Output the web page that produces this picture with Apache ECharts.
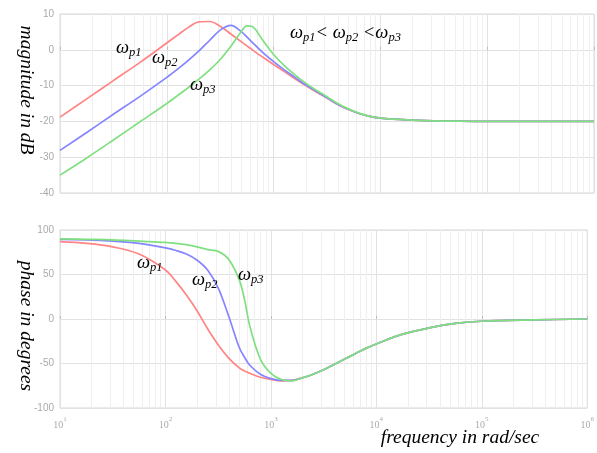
<!DOCTYPE html>
<html><head><meta charset="utf-8">
<script src="https://cdn.jsdelivr.net/npm/echarts@6/dist/echarts.min.js"></script>
<style>html,body{margin:0;padding:0;background:#fff}#c{width:597px;height:453px}</style>
</head><body><div id="c"></div>
<script>
// frequency points (rad/sec)
const freqs = [10, 17.8, 31.6, 56.2, 100, 126, 158, 200, 251, 316, 398, 501, 562, 631, 794, 1000, 1259, 1585, 1995, 2512, 3162, 3981, 5012, 6310, 7943, 10000, 17783, 31623, 56234, 100000, 316228, 1000000];
// magnitude in dB
const magRed   = [-18.8, -13.7, -8.6, -3.5, 1.9, 4.1, 6.2, 7.8, 7.9, 6.6, 4.4, 2.2, 1.1, 0.0, -2.1, -4.1, -6.1, -8.1, -10.0, -11.8, -13.5, -15.3, -16.7, -17.8, -18.6, -19.1, -19.6, -19.85, -19.95, -20, -20, -20];
const magBlue  = [-28.1, -23.1, -18.0, -13.0, -7.7, -5.4, -3.0, -0.3, 2.6, 5.5, 6.8, 5.0, 3.6, 2.1, -0.8, -3.3, -5.6, -7.7, -9.8, -11.6, -13.4, -15.2, -16.6, -17.8, -18.6, -19.1, -19.6, -19.85, -19.95, -20, -20, -20];
const magGreen = [-35.0, -30.2, -25.2, -20.1, -15.0, -12.8, -10.6, -8.2, -5.7, -2.7, 1.0, 5.2, 6.7, 6.5, 2.6, -1.3, -4.4, -7.0, -9.3, -11.3, -13.1, -15.0, -16.5, -17.7, -18.6, -19.1, -19.6, -19.85, -19.95, -20, -20, -20];
// phase in degrees
const phaseRed   = [87, 85, 81, 73, 55, 42, 27, 9, -11, -29, -44, -55, -58.5, -61, -65.5, -68, -69.5, -69, -66, -62, -57, -51, -45, -39, -33, -28, -17, -10, -5, -2.5, -1, 0];
const phaseBlue  = [89.5, 89, 87.5, 85, 80, 77, 73, 66, 55, 35, 3, -32, -43, -52, -62, -67, -69, -69, -66, -62, -57, -51, -45, -39, -33, -28, -17, -10, -5, -2.5, -1, 0];
const phaseGreen = [90, 89.5, 89, 87.5, 86, 85, 83.5, 81, 78, 76, 67, 44, 22, -8, -45, -61, -68, -69.5, -66, -62, -57, -51, -45, -39, -33, -28, -17, -10, -5, -2.5, -1, 0];
// axis ticks
const magTicks = [-40, -30, -20, -10, 0, 10];
const phaseTicks = [-100, -50, 0, 50, 100];
const decades = [10, 100, 1000, 10000, 100000, 1000000];

const minorGrid = [];
for (let i = 0; i < decades.length - 1; i++) for (let k = 2; k <= 9; k++) minorGrid.push(decades[i] * k);

const RED = '#ff8585', BLUE = '#8585ff', GREEN = '#80e080';
const serif = "'Liberation Serif','DejaVu Serif',serif";
const pairs = (ys) => freqs.map((f, i) => [f, ys[i]]);

function xAxisCfg(gi, showLabels) {
  return {
    type: 'log', logBase: 10, min: decades[0], max: decades[decades.length - 1], gridIndex: gi,
    axisLine: { show: false },
    axisTick: { show: true, inside: true, length: 3, lineStyle: { color: '#bbb' } },
    splitLine: { show: true, lineStyle: { color: '#e2e2e2', width: 1 } },
    axisLabel: {
      show: showLabels, margin: 8,
      formatter: v => '{b|10}{s|' + Math.round(Math.log10(v)) + '}',
      rich: { b: { fontSize: 10, color: '#aaa', fontFamily: serif, verticalAlign: 'bottom', lineHeight: 14 },
              s: { fontSize: 7, color: '#aaa', fontFamily: serif, verticalAlign: 'top', lineHeight: 14 } }
    }
  };
}
function yAxisCfg(gi, ticks) {
  return {
    type: 'value', gridIndex: gi, min: ticks[0], max: ticks[ticks.length - 1], interval: ticks[1] - ticks[0],
    axisLine: { show: false }, axisTick: { show: false },
    splitLine: { show: true, lineStyle: { color: '#e2e2e2', width: 1 } },
    axisLabel: { color: '#aaa', fontSize: 10, margin: 6, fontFamily: "'Liberation Sans',sans-serif" }
  };
}
function line(name, ys, color, gi, withGrid) {
  const s = {
    name, type: 'line', xAxisIndex: gi, yAxisIndex: gi, data: pairs(ys), showSymbol: false, smooth: 0.35,
    lineStyle: { color, width: 1.7 }, itemStyle: { color }, z: 3
  };
  if (withGrid) s.markLine = { silent: true, symbol: 'none', animation: false, label: { show: false },
    lineStyle: { color: '#efefef', type: 'solid', width: 1 }, z: 1,
    data: minorGrid.map(v => ({ xAxis: v })) };
  return s;
}

const rich = {
  w: { fontSize: 18.5, fontStyle: 'italic', fontFamily: serif, color: '#000', verticalAlign: 'top', lineHeight: 20 },
  s: { fontSize: 12.5, fontStyle: 'italic', fontFamily: serif, color: '#000', verticalAlign: 'bottom', lineHeight: 12, padding: [9, 0, 0, 0] }
};
function label(x, y, txt) {
  return { type: 'text', x, y, z: 10, style: { text: txt, rich, textVerticalAlign: 'top', fill: '#000' } };
}
function title(x, y, txt, rot) {
  return { type: 'text', x, y, rotation: rot, z: 10,
    style: { text: txt, fontSize: 19.5, fontStyle: 'italic', fontFamily: serif, fill: '#000', textAlign: 'center', textVerticalAlign: 'middle' } };
}

const chart = echarts.init(document.getElementById('c'), null, { renderer: 'canvas' });
chart.setOption({
  animation: false,
  backgroundColor: '#fff',
  grid: [
    { left: 60, top: 14, width: 534, height: 179, show: true, borderColor: '#d6d6d6', borderWidth: 1, backgroundColor: 'transparent' },
    { left: 60, top: 230, width: 534, height: 178, show: true, borderColor: '#d6d6d6', borderWidth: 1, backgroundColor: 'transparent' }
  ],
  xAxis: [xAxisCfg(0, false), xAxisCfg(1, true)],
  yAxis: [yAxisCfg(0, magTicks), yAxisCfg(1, phaseTicks)],
  series: [
    line('mag p1', magRed, RED, 0, true),
    line('mag p2', magBlue, BLUE, 0, false),
    line('mag p3', magGreen, GREEN, 0, false),
    line('phase p1', phaseRed, RED, 1, true),
    line('phase p2', phaseBlue, BLUE, 1, false),
    line('phase p3', phaseGreen, GREEN, 1, false)
  ],
  graphic: [
    title(26, 90, 'magnitude in dB', -Math.PI / 2),
    title(26, 326, 'phase in degrees', -Math.PI / 2),
    title(460, 438, 'frequency in rad/sec', 0),
    label(116, 39, '{w|ω}{s|p1}'),
    label(152, 49, '{w|ω}{s|p2}'),
    label(190, 76, '{w|ω}{s|p3}'),
    label(290, 24, '{w|ω}{s|p1}{w|< ω}{s|p2}{w| <ω}{s|p3}'),
    label(137, 254, '{w|ω}{s|p1}'),
    label(192, 271, '{w|ω}{s|p2}'),
    label(238, 266, '{w|ω}{s|p3}')
  ]
});
</script></body></html>
